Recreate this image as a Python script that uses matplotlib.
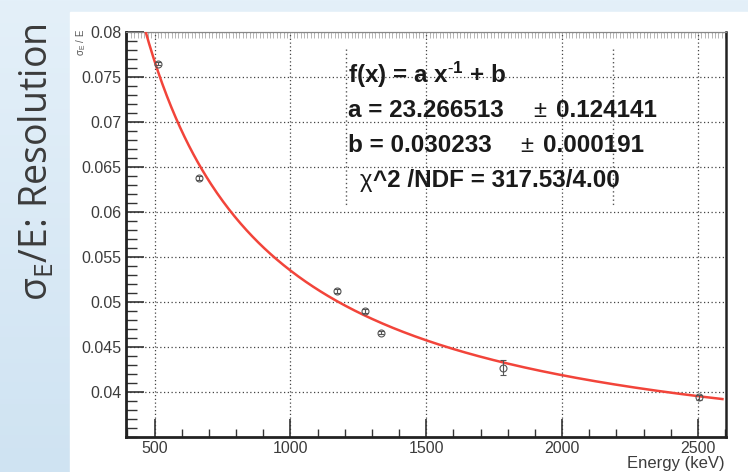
import numpy as np
import matplotlib
matplotlib.use('Agg')
import matplotlib.pyplot as plt
from matplotlib.colors import LinearSegmentedColormap
from matplotlib.patches import Rectangle
from matplotlib.lines import Line2D
from matplotlib.ticker import MultipleLocator

# measured points (keV, sigma_E/E)
energy = [511, 662, 1173, 1275, 1332, 1783, 2505]
resolution = [0.0765, 0.0638, 0.0512, 0.0490, 0.0466, 0.0427, 0.0394]
res_err = [0.0002, 0.0002, 0.0002, 0.0002, 0.0002, 0.0008, 0.0003]

# fit f(x) = a/x + b
fit_a, fit_a_err = 23.266513, 0.124141
fit_b, fit_b_err = 0.030233, 0.000191
chi2, ndf = 317.53, 4.00

x_ticks = [500, 1000, 1500, 2000, 2500]
y_ticks = [0.04, 0.045, 0.05, 0.055, 0.06, 0.065, 0.07, 0.075, 0.08]
y_labels = ['0.04', '0.045', '0.05', '0.055', '0.06', '0.065', '0.07', '0.075', '0.08']

plt.rcParams['font.family'] = ['Liberation Sans', 'DejaVu Sans']
plt.rcParams['mathtext.fontset'] = 'custom'
plt.rcParams['mathtext.rm'] = 'Open Sans'
plt.rcParams['mathtext.it'] = 'Open Sans:italic'
plt.rcParams['mathtext.bf'] = 'Liberation Sans:bold'

W, H = 748, 472


def fx(x):
    return x / W


def fy(y):
    return 1 - y / H


fig = plt.figure(figsize=(W / 100, H / 100), dpi=100)

# slide background
bg = fig.add_axes([0, 0, 1, 1])
cmap = LinearSegmentedColormap.from_list('slide', ['#e4f0f9', '#cfe3f2'])
grad = np.linspace(0, 1, 256).reshape(-1, 1)
bg.imshow(grad, aspect='auto', cmap=cmap, extent=[0, 1, 0, 1])
bg.add_patch(Rectangle((fx(70), 0), 1 - fx(70), fy(12), color='white'))
bg.set_xlim(0, 1)
bg.set_ylim(0, 1)
bg.axis('off')

ax = fig.add_axes([fx(126), fy(437), fx(725.7) - fx(126), fy(32) - fy(437)])
ax.set_xlim(395, 2602)
ax.set_ylim(0.035, 0.08)

xs = np.linspace(420, 2590, 400)
ax.plot(xs, fit_a / xs + fit_b, color='#f2443a', lw=1.8, zorder=3)
ax.errorbar(energy, resolution, yerr=res_err, fmt='o', mfc='none', mec='#555555',
            ms=5, mew=0.8, ecolor='#555555', elinewidth=0.8, capsize=2, zorder=4)

ax.set_xticks(x_ticks)
ax.xaxis.set_minor_locator(MultipleLocator(100))
ax.set_yticks(y_ticks, y_labels)
ax.yaxis.set_minor_locator(MultipleLocator(0.001))
ax.grid(True, which='major', color='#444444', linestyle=(0, (1, 2)), lw=0.9)
ax.tick_params(which='both', direction='in', top=False, right=False,
               labelsize=11.5, labelcolor='#3c3c3c', color='#333333', pad=3)
ax.tick_params(which='major', length=13, width=1.2)
ax.tick_params(which='minor', length=6, width=1.0)
ax.tick_params(axis='y', which='minor', length=8)

for s in ['left', 'bottom']:
    ax.spines[s].set_linewidth(2)
    ax.spines[s].set_color('#222222')
ax.spines['right'].set_linewidth(1.8)
ax.spines['right'].set_color('#222222')
ax.spines['top'].set_linewidth(0.8)
ax.spines['top'].set_color('#888888')

top = ax.secondary_xaxis('top')
top.set_xticks(np.arange(400, 2601, 12.5))
top.tick_params(direction='in', length=4, width=0.6, color='#aaaaaa', labeltop=False)
top.spines['top'].set_color('#888888')
top.spines['top'].set_linewidth(0.8)

fig.text(fx(725), fy(468), 'Energy (keV)', ha='right', va='baseline',
         fontsize=12, color='#3c3c3c')
fig.text(fx(81), fy(29), r'$\mathregular{\sigma_E}$ / E', rotation=90,
         ha='center', va='top', fontsize=7, color='#555555')

# slide title on the left
fig.text(fx(37), fy(162), r'$\mathregular{\sigma_E}$/E: Resolution', rotation=90,
         ha='center', va='center', fontsize=27, family='Open Sans', color='#3b3b3b')

# fit statistics box
box = dict(fontsize=17.5, fontweight='bold', color='#1a1a1a', va='baseline')
reg = dict(fontsize=17, color='#1a1a1a', va='baseline')
fig.text(fx(348), fy(83), r'f(x) = a x$^{\mathbf{\text{-}1}}$ + b', **box)
fig.text(fx(348), fy(117), f'a = {fit_a:.6f}', **box)
fig.text(fx(533), fy(117), '\u00b1', **reg)
fig.text(fx(556), fy(117), f'{fit_a_err:.6f}', **box)
fig.text(fx(348), fy(152), f'b = {fit_b:.6f}', **box)
fig.text(fx(520), fy(152), '\u00b1', **reg)
fig.text(fx(543), fy(152), f'{fit_b_err:.6f}', **box)
fig.text(fx(360), fy(187), '\u03c7', **reg)
fig.text(fx(373), fy(187), f'^2 /NDF = {chi2:.2f}/{ndf:.2f}', **box)
for xb in [346, 613]:
    fig.add_artist(Line2D([fx(xb), fx(xb)], [fy(49), fy(205)], color='#555555',
                          lw=1, linestyle=(0, (1, 2))))

fig.savefig('out.png', dpi=100)
